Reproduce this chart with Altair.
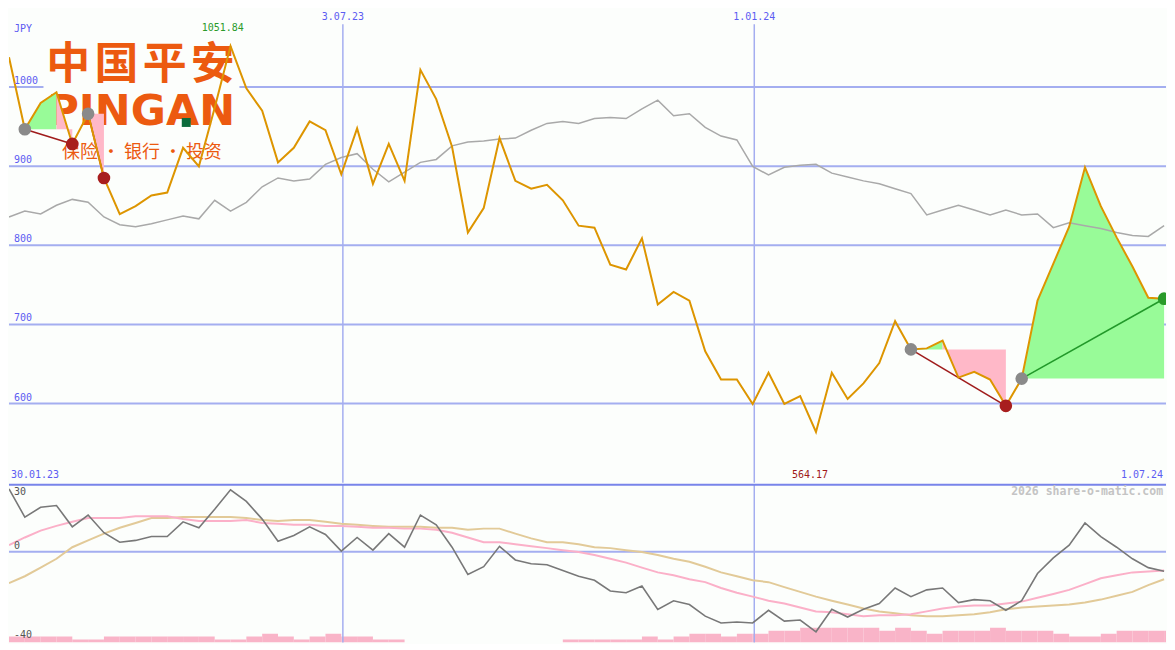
import altair as alt
import pandas as pd

# ---------------- data (weekly points, index 0 = 30.01.23) ----------------
price = [1037.8, 946.7, 979.9, 993.5, 928.2, 966.4, 885.2, 839.6, 849.5, 863.0,
         866.7, 923.3, 899.9, 973.8, 1051.84, 998.4, 970.1, 904.9, 923.3, 956.6,
         945.5, 889.8, 947.8, 877.8, 928.2, 881.5, 1021.8, 984.9, 924.6, 816.2,
         847.1, 935.6, 881.5, 871.6, 876.6, 856.9, 824.9, 822.4, 775.6, 769.5,
         808.9, 725.2, 741.2, 730.1, 666.1, 630.4, 630.4, 599.6, 639.0, 599.6,
         609.5, 564.17, 639.0, 605.8, 625.5, 651.3, 704.2, 668.5, 669.8, 679.6,
         632.9, 640.2, 630.4, 597.2, 631.6, 730.1, 776.9, 823.6, 898.7, 849.5,
         810.1, 773.2, 733.8, 732.6]

benchmark = [835.9, 843.3, 839.6, 850.7, 858.1, 854.4, 835.9, 826.1, 823.6, 827.3,
             832.2, 837.2, 833.5, 856.9, 843.3, 854.4, 874.1, 885.2, 881.5, 883.9,
             902.4, 911.0, 915.9, 896.2, 880.2, 892.6, 904.9, 908.6, 925.8, 930.7,
             932.0, 934.4, 935.6, 945.5, 954.1, 956.6, 954.1, 960.2, 961.5, 960.2,
             972.5, 983.6, 963.9, 966.4, 949.2, 938.1, 933.2, 899.9, 888.9, 898.7,
             901.2, 902.4, 891.3, 886.4, 881.5, 877.8, 871.6, 865.5, 838.4, 844.6,
             850.7, 844.6, 838.4, 844.6, 838.4, 839.6, 822.4, 828.6, 824.9, 821.2,
             816.2, 812.5, 811.3, 824.9]

momentum = [27.7, 15.3, 19.6, 20.4, 11.0, 16.2, 8.4, 4.2, 5.0, 6.7,
            6.7, 13.2, 10.6, 18.7, 27.3, 22.2, 14.4, 4.6, 7.2, 11.0,
            7.6, 0.3, 6.3, 0.7, 8.0, 2.0, 16.2, 11.9, 2.0, -10.0,
            -6.6, 2.4, -3.6, -5.3, -5.7, -8.3, -10.8, -12.6, -17.3, -18.1,
            -15.1, -25.4, -21.6, -23.3, -28.4, -31.4, -31.0, -31.4, -25.8, -30.6,
            -30.1, -35.3, -25.4, -28.8, -25.4, -22.8, -16.0, -19.8, -16.8, -16.0,
            -22.4, -21.1, -21.6, -25.8, -21.6, -9.6, -2.7, 2.9, 12.7, 6.7,
            2.0, -3.1, -7.0, -8.6]

ma_pink = [2.9, 6.3, 9.3, 11.4, 13.2, 14.9, 14.9, 14.9, 15.7, 15.7,
           15.7, 14.4, 13.6, 13.6, 13.6, 14.0, 12.7, 12.3, 11.9, 11.9,
           11.4, 11.4, 11.0, 10.6, 10.6, 10.2, 10.2, 9.7, 8.4, 6.3,
           4.2, 4.2, 3.3, 2.4, 1.6, 0.7, -0.1, -1.4, -3.1, -4.8,
           -7.0, -9.1, -10.4, -12.1, -13.4, -16.0, -18.1, -19.8, -21.6, -22.8,
           -24.6, -26.3, -26.7, -27.6, -28.4, -28.0, -28.0, -27.6, -26.3, -25.0,
           -24.1, -23.7, -23.7, -22.8, -22.0, -20.3, -18.6, -16.8, -14.3, -11.7,
           -10.4, -9.1, -8.7, -8.3]

ma_tan = [-13.8, -10.8, -7.0, -3.1, 2.0, 5.0, 8.0, 10.6, 12.7, 14.9,
          14.9, 15.3, 15.3, 15.3, 15.3, 14.9, 14.0, 13.6, 14.0, 14.0,
          13.2, 12.3, 11.9, 11.4, 11.0, 11.0, 11.0, 10.6, 10.6, 9.7,
          10.2, 10.2, 8.0, 5.9, 4.2, 4.2, 3.3, 2.0, 1.6, 0.7,
          -0.1, -1.4, -3.1, -4.4, -6.6, -9.1, -10.8, -12.6, -13.4, -15.6,
          -17.7, -19.8, -21.6, -23.3, -25.0, -26.3, -27.1, -28.0, -28.4, -28.4,
          -28.0, -27.6, -26.7, -25.4, -24.6, -24.1, -23.7, -23.3, -22.4, -21.1,
          -19.4, -17.7, -14.7, -12.1]

volume = [2, 2, 2, 2, 1, 1, 2, 2, 2, 2,
          2, 2, 2, 1, 1, 2, 3, 2, 1, 2,
          3, 2, 2, 1, 1, 0, 0, 0, 0, 0,
          0, 0, 0, 0, 0, 1, 1, 1, 1, 1,
          2, 1, 2, 3, 3, 2, 3, 3, 4, 4,
          5, 5, 5, 5, 5, 4, 5, 4, 3, 4,
          4, 4, 5, 4, 4, 4, 3, 2, 2, 3,
          4, 4, 4, 4]

price_ticks = [1000, 900, 800, 700, 600]
osc_ticks = [30, 0, -40]
date_labels = ["3.07.23", "1.01.24"]
date_pos = [21.1, 47.1]
start_label = "30.01.23"
end_label = "1.07.24"
currency = "JPY"
logo_chars = ["中", "国", "平", "安"]
logo_latin = "PINGAN"
logo_tagline = "保险 · 银行 · 投资"
watermark = "2026 share-o-matic.com"
swings = [(1, 4, "down"), (5, 6, "down"), (57, 63, "down"), (64, 73, "up")]

# ---------------- layout / style ----------------
W, HT = 1159, 634
SX, SY = W / 1175, HT / 650
H1 = round(487 * SY)
H2 = HT - H1
XMAX = 73.12
BG = "#fcfefc"
GRID = "#a4aef0"
SEP = "#7884ea"
LBL = "#5c5cf2"
ORANGE = "#dd9500"
BENCH = "#a9a9a9"
GFILL = "#98fb98"
PFILL = "#ffb8c8"
LOGO = "#ec5a10"
MONO = "DejaVu Sans Mono"

n = len(price)
idx = list(range(n))
df = pd.DataFrame({"i": idx, "price": price, "bench": benchmark,
                   "mom": momentum, "mp": ma_pink, "mt": ma_tan})
vol_df = pd.DataFrame({"k0": idx, "k1": [min(k + 1, XMAX) for k in idx], "vol": volume})
one = pd.DataFrame({"a": [0]})

xs = alt.Scale(domain=[0, XMAX], nice=False, zero=False)
ys_top = alt.Scale(domain=[500, 1099.3], nice=False, zero=False)
ys_bot = alt.Scale(domain=[-40, 30], nice=False, zero=False)

# swing fills, signal lines and dots derived from price
fill_rows, sig_rows, dot_rows = [], [], []
for ns, (s, e, kind) in enumerate(swings):
    seg = price[s:e + 1]
    level = price[s]
    if kind == "down":
        ext = s + seg.index(max(seg))
        parts = [("g", s, ext), ("p", ext, e)]
        endc = "red"
    else:
        ext = s + seg.index(min(seg))
        parts = [("p", s, ext), ("g", ext, e)]
        endc = "green"
    for c, a, b in parts:
        if b > a:
            for j in range(a, b + 1):
                fill_rows.append({"seg": f"{ns}{c}", "i": j, "price": price[j],
                                  "level": level, "c": c})
    for j in (s, e):
        sig_rows.append({"seg": ns, "i": j, "price": price[j], "k": kind})
    dot_rows.append({"i": s, "price": price[s], "c": "start"})
    dot_rows.append({"i": e, "price": price[e], "c": endc})
fill_df = pd.DataFrame(fill_rows)
sig_df = pd.DataFrame(sig_rows)
dot_df = pd.DataFrame(dot_rows)

X = alt.X("i:Q", scale=xs, axis=None)
YP = alt.Y("price:Q", scale=ys_top, axis=None, stack=None)


def txt(text, x, y, align="left", color=LBL, size=10, weight="normal", font=MONO):
    return alt.Chart(one).mark_text(text=text, font=font, fontSize=size, fontWeight=weight,
                                    color=color, align=align, baseline="middle").encode(
        x=alt.value(x * SX), y=alt.value(y * SY))


# ---------------- top panel ----------------
grid_h = alt.Chart(pd.DataFrame({"v": price_ticks})).mark_rule(
    color=GRID, strokeWidth=2).encode(y=alt.Y("v:Q", scale=ys_top, axis=None))
vdf = pd.DataFrame({"pos": date_pos, "t": date_labels})
vrules_top = alt.Chart(vdf).mark_rule(color=GRID, strokeWidth=1.5).encode(
    x=alt.X("pos:Q", scale=xs, axis=None), y=alt.value(16 * SY), y2=alt.value(H1))

box = alt.Chart(one).mark_rect(color=BG).encode(
    x=alt.value(35 * SX), x2=alt.value(234 * SX), y=alt.value(34 * SY), y2=alt.value(158 * SY))
logo_layers = []
for k, ch in enumerate(logo_chars):
    logo_layers.append(txt(ch, 60 + 49 * k, 59.5, align="center", size=44, weight="bold",
                           color=LOGO, font="Noto Sans CJK SC"))
logo_layers.append(txt(logo_latin, 39, 106, size=43, weight="bold", color=LOGO, font="DejaVu Sans"))
logo_layers.append(alt.Chart(one).mark_square(color="#0b6b3c", size=80, opacity=1).encode(
    x=alt.value(180 * SX), y=alt.value(117 * SY)))
logo_layers.append(txt(logo_tagline, 135, 148, align="center", size=18, color=LOGO,
                       font="Noto Sans CJK SC"))

fill_g = alt.Chart(fill_df[fill_df.c == "g"]).mark_area(color=GFILL, opacity=1, clip=True).encode(
    x=X, y=YP, y2="level:Q", detail="seg:N")
fill_p = alt.Chart(fill_df[fill_df.c == "p"]).mark_area(color=PFILL, opacity=1, clip=True).encode(
    x=X, y=YP, y2="level:Q", detail="seg:N")
bench_line = alt.Chart(df).mark_line(color=BENCH, strokeWidth=1.5, clip=True).encode(
    x=X, y=alt.Y("bench:Q", scale=ys_top, axis=None))
sig_down = alt.Chart(sig_df[sig_df.k == "down"]).mark_line(
    color="#a01c1c", strokeWidth=1.6, clip=True).encode(x=X, y=YP, detail="seg:N")
sig_up = alt.Chart(sig_df[sig_df.k == "up"]).mark_line(
    color="#22992a", strokeWidth=1.6, clip=True).encode(x=X, y=YP, detail="seg:N")
orange = alt.Chart(df).mark_line(color=ORANGE, strokeWidth=2, clip=True).encode(x=X, y=YP)
dot_layers = []
for c, col in [("start", "#8a8a8a"), ("red", "#a81e1e"), ("green", "#2a9a2a")]:
    dot_layers.append(alt.Chart(dot_df[dot_df.c == c]).mark_circle(
        size=160, opacity=1, color=col, clip=True).encode(x=X, y=YP))

tick_lbl = alt.Chart(pd.DataFrame({"v": price_ticks, "t": [str(v) for v in price_ticks]})).mark_text(
    font=MONO, fontSize=10, color=LBL, align="left", baseline="bottom", dy=-1).encode(
    x=alt.value(5 * SX), y=alt.Y("v:Q", scale=ys_top, axis=None), text="t:N")
jpy = txt(currency, 5, 21)
date_lbl = alt.Chart(vdf).mark_text(font=MONO, fontSize=10, color=LBL, align="center",
                                    baseline="middle").encode(
    x=alt.X("pos:Q", scale=xs, axis=None), y=alt.value(9 * SY), text="t:N")
imax = price.index(max(price))
imin = price.index(min(price))
max_lbl = alt.Chart(pd.DataFrame({"i": [imax], "t": [f"{max(price):.2f}"]})).mark_text(
    font=MONO, fontSize=10, color="#2a9a2a", align="center", baseline="middle", dx=-8 * SX).encode(
    x=X, y=alt.value(20 * SY), text="t:N")
min_lbl = alt.Chart(pd.DataFrame({"i": [imin], "t": [f"{min(price):.2f}"]})).mark_text(
    font=MONO, fontSize=10, color="#a01818", align="center", baseline="middle", dx=-6 * SX).encode(
    x=X, y=alt.value(479 * SY), text="t:N")
start_lbl = txt(start_label, 2, 479)
end_lbl = txt(end_label, 1172, 479, align="right")

top = alt.layer(grid_h, vrules_top, box, *logo_layers, fill_g, fill_p,
                bench_line, sig_down, sig_up, orange, *dot_layers, tick_lbl, jpy, date_lbl,
                max_lbl, min_lbl, start_lbl, end_lbl).properties(width=W, height=H1)

# ---------------- bottom panel ----------------
bars = alt.Chart(vol_df).mark_rect(color="#f9b4c8", clip=True).encode(
    x=alt.X("k0:Q", scale=xs, axis=None), x2="k1:Q",
    y=alt.Y("vol:Q", scale=alt.Scale(domain=[0, 163 / 3], nice=False), axis=None),
    y2=alt.datum(0))
grid0 = alt.Chart(pd.DataFrame({"v": [0]})).mark_rule(color=GRID, strokeWidth=2).encode(
    y=alt.Y("v:Q", scale=ys_bot, axis=None))
vrules_bot = alt.Chart(vdf).mark_rule(color=GRID, strokeWidth=1.5).encode(
    x=alt.X("pos:Q", scale=xs, axis=None), y=alt.value(1), y2=alt.value(H2))
sep = alt.Chart(one).mark_rule(color=SEP, strokeWidth=2).encode(
    x=alt.value(0), x2=alt.value(W), y=alt.value(1))
tan_line = alt.Chart(df).mark_line(color="#e2ca98", strokeWidth=2, clip=True).encode(
    x=X, y=alt.Y("mt:Q", scale=ys_bot, axis=None))
pink_line = alt.Chart(df).mark_line(color="#fbb0c8", strokeWidth=2, clip=True).encode(
    x=X, y=alt.Y("mp:Q", scale=ys_bot, axis=None))
mom_line = alt.Chart(df).mark_line(color="#787878", strokeWidth=1.6, clip=True).encode(
    x=X, y=alt.Y("mom:Q", scale=ys_bot, axis=None))
osc_lbls = []
for v, d in zip(osc_ticks, [9, -6, -8]):
    osc_lbls.append(alt.Chart(pd.DataFrame({"v": [v], "t": [str(v)]})).mark_text(
        font=MONO, fontSize=10, color="#555555", align="left", baseline="middle", dy=d * SY).encode(
        x=alt.value(5 * SX), y=alt.Y("v:Q", scale=ys_bot, axis=None), text="t:N"))
wm = alt.Chart(one).mark_text(text=watermark, font=MONO, fontWeight="bold",
                              fontSize=11.5, color="#c4c4c4", align="right", baseline="middle").encode(
    x=alt.value(1172 * SX), y=alt.value(9 * SY))

bottom = alt.layer(bars, grid0, vrules_bot, tan_line, pink_line, mom_line, sep, *osc_lbls, wm
                   ).resolve_scale(y="independent").properties(width=W, height=H2)

chart = alt.vconcat(top, bottom, spacing=0).properties(
    padding=0, background=BG).configure_view(stroke=None)

chart.save("out.html", embed_options={"renderer": "svg", "actions": False})
